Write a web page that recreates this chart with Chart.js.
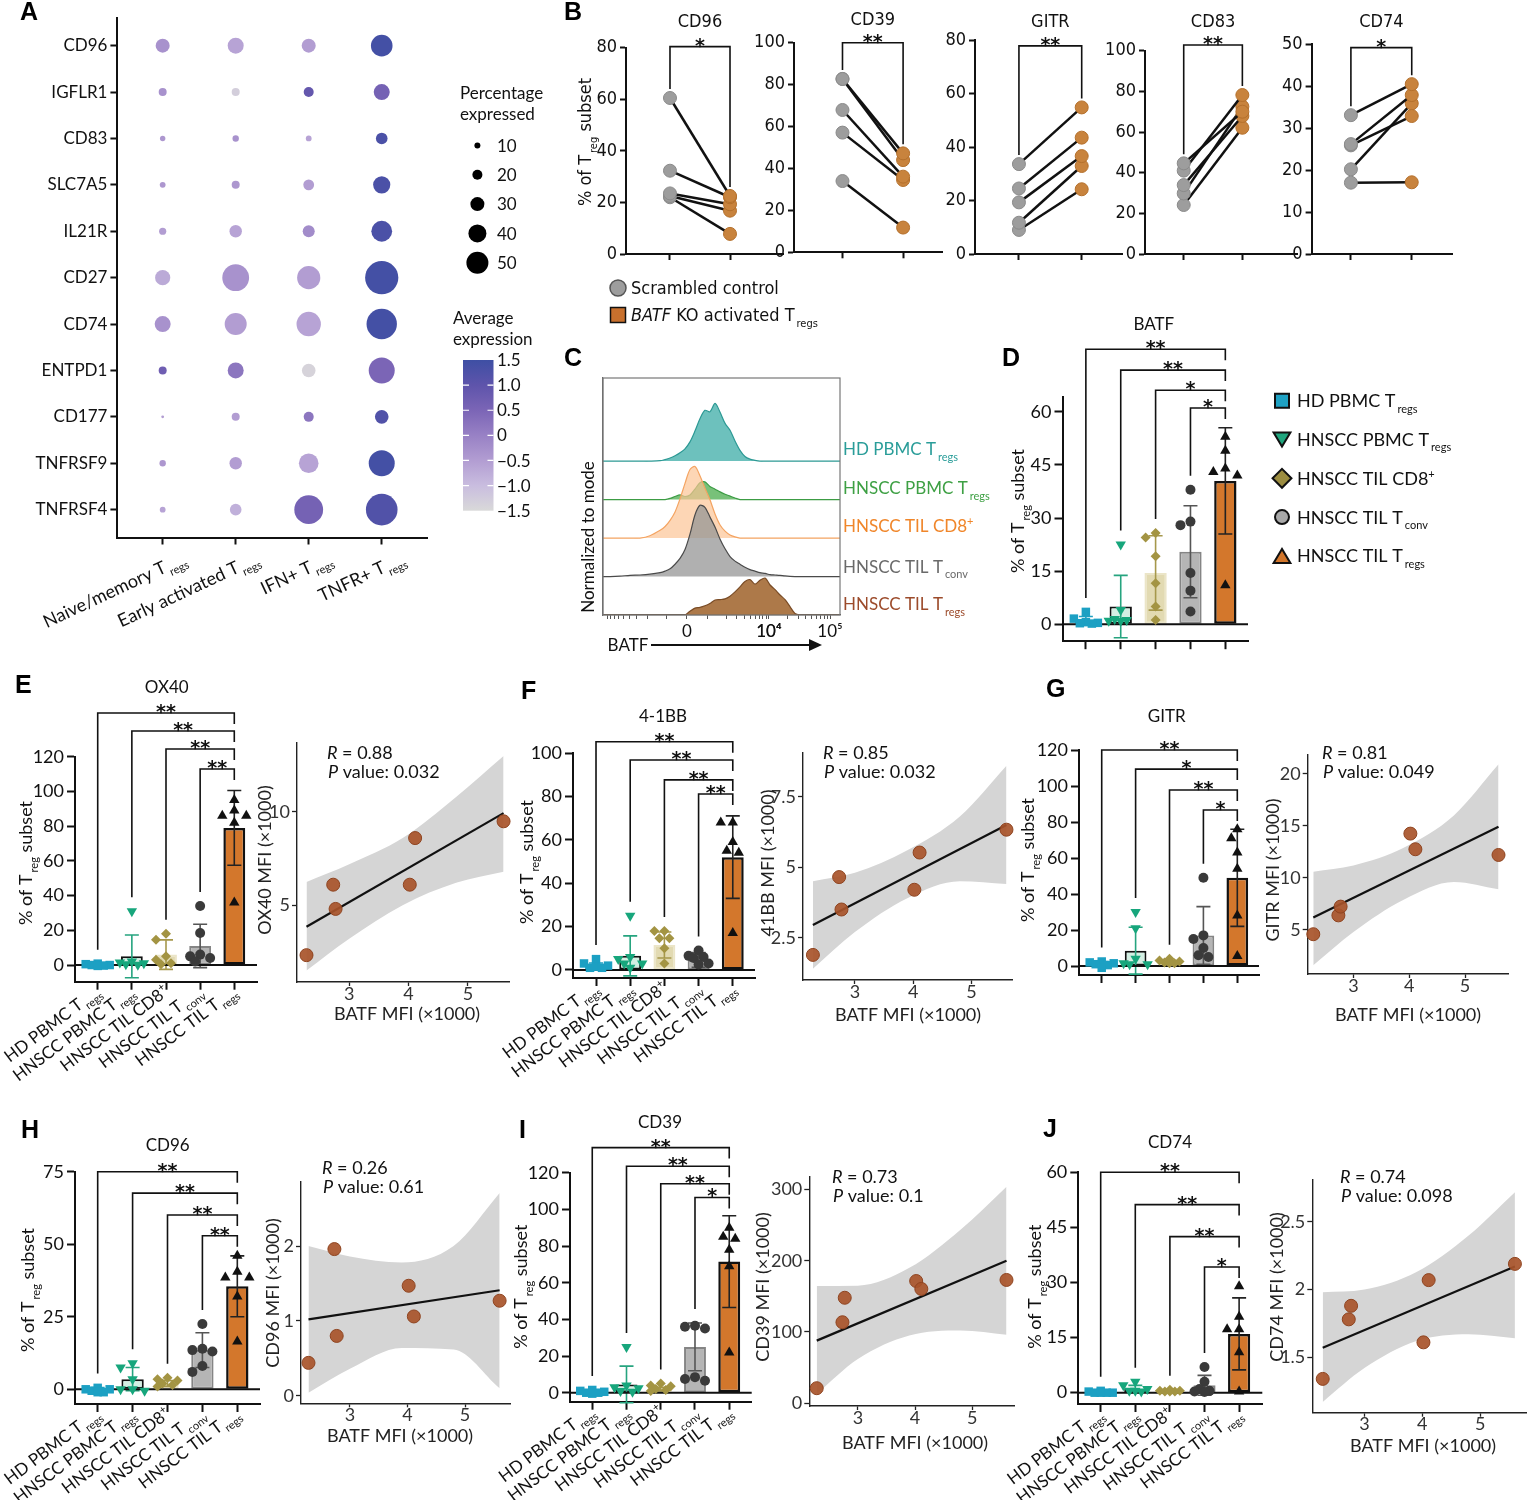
<!DOCTYPE html>
<html>
<head>
<meta charset="utf-8">
<title>BATF Treg figure</title>
<script src="https://cdn.jsdelivr.net/npm/chart.js@4.4.1/dist/chart.umd.min.js"></script>
<style>
  body { margin: 0; background: #fff; }
  #fig { position: relative; width: 1534px; height: 1500px; background: #fff; overflow: hidden; }
  #fig canvas { position: absolute; }
  .tag { position: absolute; font: bold 25px "Liberation Sans", Arial, sans-serif; color: #000; line-height: 25px; }
</style>
</head>
<body>
<div id="fig"></div>
<script>
// ---------- A: dot plot ----------
var dotGenes = ['CD96', 'IGFLR1', 'CD83', 'SLC7A5', 'IL21R', 'CD27', 'CD74', 'ENTPD1', 'CD177', 'TNFRSF9', 'TNFRSF4'];
var dotClusters = ['Naive/memory T_{regs}', 'Early activated T_{regs}', 'IFN+ T_{regs}', 'TNFR+ T_{regs}'];
// percentage expressed (rows = genes, cols = clusters)
var pctExpressed = [
  [30, 35, 30, 49],
  [15, 15, 20, 35],
  [8.5, 11, 9.5, 24],
  [9.5, 15, 22, 38],
  [13, 26, 25, 47],
  [33, 62, 53, 78],
  [35, 50, 56, 71],
  [15, 35, 29, 60],
  [2, 15, 20, 29],
  [11, 26, 44, 60],
  [9.5, 24, 67, 74]
];
var avgExpression = [
  [-0.3, -0.6, -0.5, 1.4],
  [-0.3, -1.3, 0.9, 0.6],
  [-0.4, -0.3, -0.6, 1.3],
  [-0.4, -0.4, -0.5, 1.3],
  [-0.5, -0.6, -0.2, 1.3],
  [-0.7, -0.3, -0.5, 1.4],
  [-0.3, -0.5, -0.6, 1.4],
  [0.7, 0.2, -1.4, 0.5],
  [-0.5, -0.5, 0.2, 1.2],
  [-0.4, -0.5, -0.6, 1.4],
  [-0.6, -0.8, 0.6, 1.2]
];
var sizeBreaks = [10, 20, 30, 40, 50];
var colorBreaks = [1.5, 1.0, 0.5, 0, -0.5, -1.0, -1.5];

// ---------- B: paired KO experiment ----------
var pairedMarkers = ['CD96', 'CD39', 'GITR', 'CD83', 'CD74'];
var pairedScrambled = [
  [60.5, 32.3, 23.5, 22.5, 22],
  [82.7, 82.7, 67.9, 57.1, 34],
  [33.6, 24.5, 19.3, 11.7, 9.0],
  [44.6, 41, 33.9, 29.8, 24.1],
  [33.1, 26.2, 25.9, 20.2, 17.0]
];
var pairedKO = [
  [22.5, 22, 19.3, 16.8, 7.8],
  [47.2, 44, 36.1, 34.5, 11.8],
  [54.8, 43.5, 36.6, 32.9, 24.2],
  [70, 78.2, 67.9, 72.5, 62.1],
  [40.5, 37.9, 32.9, 35.9, 17.1]
];
var pairedSig = ['*', '**', '**', '**', '*'];
var pairedTicks = [[0, 20, 40, 60, 80], [0, 20, 40, 60, 80, 100], [0, 20, 40, 60, 80], [0, 20, 40, 60, 80, 100], [0, 10, 20, 30, 40, 50]];

// ---------- D-J: subsets ----------
var groups = ['HD PBMC T_{regs}', 'HNSCC PBMC T_{regs}', 'HNSCC TIL CD8^{+}', 'HNSCC TIL T_{conv}', 'HNSCC TIL T_{regs}'];

// ---------- C: BATF histograms ----------
var histGroups = groups;
var histChannel = [0, 30, 72, 114, 156, 198, 241, 262, 283, 304, 325, 346, 367, 388, 409, 430, 451, 473, 494, 515,
  536, 557, 578, 599, 620, 641, 662, 684, 705, 726, 747, 768, 789, 810, 831, 873, 916, 1000];
var histTeal = [0, 0, 0, 0, 0, 0, 0.01, 0.04, 0.08, 0.14, 0.22, 0.32, 0.5, 0.78, 1.1, 1.32, 1.28, 1.5, 1.27, 0.98,
  0.8, 0.52, 0.28, 0.12, 0.05, 0.02, 0, 0, 0, 0, 0, 0, 0, 0, 0, 0, 0, 0];
var histGreen = [0, 0, 0, 0, 0, 0, 0, 0, 0.03, 0.08, 0.12, 0.08, 0.12, 0.27, 0.44, 0.46, 0.34, 0.27, 0.2, 0.14,
  0.09, 0.04, 0, 0, 0, 0, 0, 0, 0, 0, 0, 0, 0, 0, 0, 0, 0, 0];
var histOrange = [0, 0, 0, 0, 0, 0.06, 0.2, 0.3, 0.46, 0.68, 1.02, 1.42, 1.78, 1.86, 1.62, 1.3, 1.0, 0.62, 0.34, 0.18,
  0.08, 0.03, 0, 0, 0, 0, 0, 0, 0, 0, 0, 0, 0, 0, 0, 0, 0, 0];
var histGray = [0, 0, 0.01, 0.03, 0.04, 0.06, 0.1, 0.14, 0.2, 0.32, 0.47, 0.7, 1.1, 1.6, 1.85, 1.8, 1.55, 1.28, 0.97, 0.72,
  0.52, 0.4, 0.32, 0.24, 0.18, 0.14, 0.1, 0.08, 0.05, 0.04, 0.03, 0.015, 0.005, 0, 0, 0, 0, 0];
var histBrown = [0, 0, 0, 0, 0, 0, 0, 0, 0, 0, 0, 0, 0.1, 0.18, 0.2, 0.24, 0.3, 0.39, 0.4, 0.42,
  0.49, 0.6, 0.73, 0.87, 0.92, 0.8, 0.9, 0.96, 0.78, 0.66, 0.52, 0.4, 0.22, 0.04, 0, 0, 0, 0];
var histLabels = ['0', '10\u2074', '10\u2075'];
var histLabelChannel = [354, 700, 958];

var batfMean = [1, 5, 14.5, 20.5, 40.5];
var batfSd = [1.2, 8.8, 10.5, 13, 15];
var batfPoints = [[3.5, 1.6, 0.6, 0.4, 0.3, 0.2], [22.5, 4, 1.5, 1.2, 1, 1], [25.8, 24.5, 19.2, 11.6, 5, 1.2], [38, 29, 28, 14.5, 9.5, 3.6], [53, 49, 44, 43, 42, 11]];
var batfSig = ['**', '**', '*', '*'];

var ox40Mean = [0, 5, 6, 11, 79];
var ox40Sd = [0.8, 12.3, 8.5, 12.5, 21.5];
var ox40Points = [[0.8, 0.5, 0, 0, -0.3, -0.5], [31, 2, 1.5, 1, 0.5, 0.2], [18, 14.5, 5, 3, 1, 0.5], [34, 18.5, 6, 5, 4, 2], [95, 89, 86, 86, 82, 36]];
var ox40Sig = ['**', '**', '**', '**'];

var bb41Mean = [2, 6.5, 11.5, 4.6, 52];
var bb41Sd = [1.2, 9.2, 6, 3.4, 19];
var bb41Points = [[5, 3, 2, 1.5, 1, 1], [25, 6, 5, 3, 3, 1], [18, 18, 14.6, 14.6, 10, 3], [9, 6.5, 6, 5.5, 3, 2.5], [68, 68, 59, 55, 54, 17]];
var bb41Sig = ['**', '**', '**', '**'];

var gitrMean = [1.5, 8.5, 2, 17, 49];
var gitrSd = [1, 13, 1, 16, 27];
var gitrPoints = [[2.5, 2, 1.5, 1, 0.5, -1], [30, 21, 4, 1.5, 1, 1], [4, 3, 2.5, 2, 1.5, 1.5], [49, 17, 15, 10, 6, 5], [76, 71, 63, 54, 28, 5.6]];
var gitrSig = ['**', '*', '**', '*'];

var cd96Mean = [0, 3.5, 2, 13.5, 35.5];
var cd96Sd = [0.6, 4, 1, 6, 10.5];
var cd96Points = [[0.5, 0, 0, -0.5, -1, -1], [9, 7.5, 3.5, 0, 0, -0.5], [4, 3.5, 3, 2, 1.5, 1], [22.5, 14, 13.5, 13, 8, 6], [46, 40.5, 38.5, 38.5, 32, 16.5]];
var cd96Sig = ['**', '**', '**', '**'];

var cd39Mean = [0.5, 4.5, 2, 25, 71.5];
var cd39Sd = [1, 10, 1, 13, 25];
var cd39Points = [[1.5, 1, 0.5, 0, 0, -0.5], [25, 4, 3, 2.5, 1, 0.5], [5, 4, 3.5, 2, 1.5, 1], [36.5, 36, 35, 8.5, 7.5, 6.5], [90, 85, 84, 78, 69, 22]];
var cd39Sig = ['**', '**', '**', '*'];

var cd74Mean = [0, 1, 0.5, 2, 16];
var cd74Sd = [0.2, 1, 0.2, 2.7, 9.8];
var cd74Points = [[0.5, 0.3, 0, 0, 0, 0], [3, 2, 1, 0.5, 0.5, 0.3], [0.8, 0.5, 0.5, 0.3, 0.3, 0.3], [7, 3, 1, 0.5, 0.3, 0.2], [29, 20.7, 17.3, 17.3, 11, 0.3]];
var cd74Sig = ['**', '**', '**', '*'];

// correlation with BATF MFI (x1000), one value per donor
var batfMfi = [2.28, 2.73, 2.77, 4.02, 4.11, 5.6];
var ox40Mfi = [2.32, 6.1, 4.8, 6.1, 8.6, 9.5];
var bb41Mfi = [1.89, 4.65, 3.5, 4.2, 5.52, 6.33];
var gitrMfi = [4.59, 6.4, 7.24, 14.25, 12.75, 12.2];
var cd96Mfi = [0.44, 1.96, 0.80, 1.47, 1.06, 1.27];
var cd39Mfi = [21, 113.6, 148, 171.5, 160.4, 173];
var cd74Mfi = [1.34, 1.78, 1.88, 1.61, 2.07, 2.19];
var fitX = [2.28, 5.6];
var bandX = [2.28, 3.0, 3.9, 4.8, 5.6];

var FONT = 'Lato, "Noto Sans", sans-serif';
var NARROW = '"Liberation Sans Narrow", "DejaVu Sans Condensed", sans-serif';
var STAR = '"DejaVu Sans", sans-serif';

Chart.defaults.font.family = FONT;
Chart.defaults.color = '#111';
Chart.defaults.animation = false;
Chart.defaults.plugins.legend.display = false;
Chart.defaults.plugins.tooltip.enabled = false;

var fig = document.getElementById('fig');

function addCanvas(box) {
  var c = document.createElement('canvas');
  c.width = box.w; c.height = box.h;
  c.style.left = box.x + 'px'; c.style.top = box.y + 'px';
  c.style.width = box.w + 'px'; c.style.height = box.h + 'px';
  fig.appendChild(c);
  return c;
}

// padding + axis sizes so that the chart area lands on `area` (page coords)
function frame(box, area) {
  return {
    padding: {top: area.t - box.y, right: box.x + box.w - area.r, left: 0, bottom: 0},
    yw: area.l - box.x,
    xh: box.y + box.h - area.b
  };
}

function axis(o) {
  var col = o.color || '#111';
  return {
    type: 'linear', min: o.min, max: o.max, reverse: !!o.reverse, offset: false,
    afterBuildTicks: function (s) { s.ticks = o.ticks.map(function (v) { return {value: v}; }); },
    afterFit: function (s) { if (o.w != null) s.width = o.w; if (o.h != null) s.height = o.h; },
    border: {display: true, color: col, width: o.bw || 2},
    grid: {display: true, offset: false, drawOnChartArea: false, drawTicks: !o.noTicks,
      tickLength: o.tl || 7, tickWidth: o.tw || 2, tickColor: o.tickColor || col},
    ticks: {autoSkip: false, maxRotation: 0, minRotation: 0, padding: o.pad != null ? o.pad : 3,
      color: o.tc || '#111', font: {size: o.fs || 18, family: o.ff || FONT},
      callback: o.cb || function (v) { return String(v); }}
  };
}

// "T_{regs}" -> subscript, "^{+}" -> superscript, "~{R}" -> italic
function parseRich(s) {
  var parts = [], re = /([_^~])\{([^}]*)\}/g, last = 0, m;
  while ((m = re.exec(s))) {
    if (m.index > last) parts.push([s.slice(last, m.index), '']);
    parts.push([m[2], m[1] === '_' ? 'sub' : m[1] === '^' ? 'sup' : 'i']);
    last = re.lastIndex;
  }
  if (last < s.length) parts.push([s.slice(last), '']);
  return parts;
}

function drawRich(ctx, str, x, y, o) {
  var parts = parseRich(str), size = o.size || 17, fam = o.family || FONT, wt = o.weight || 'normal';
  function font(k) {
    return (k === 'i' ? 'italic ' : '') + wt + ' ' + (k === 'sub' || k === 'sup' ? Math.round(size * 0.62) : size) + 'px ' + fam;
  }
  ctx.save();
  ctx.translate(x, y);
  if (o.rot) ctx.rotate(o.rot * Math.PI / 180);
  var w = 0;
  parts.forEach(function (p) { ctx.font = font(p[1]); w += ctx.measureText(p[0]).width + (p[1] === 'sub' ? 2 : 0); });
  var cx = o.align === 'right' ? -w : o.align === 'center' ? -w / 2 : 0;
  var base = o.middle ? size * 0.36 : 0;
  ctx.fillStyle = o.color || '#111';
  ctx.textAlign = 'left';
  ctx.textBaseline = 'alphabetic';
  parts.forEach(function (p) {
    ctx.font = font(p[1]);
    if (p[1] === 'sub') cx += 2;
    var dy = p[1] === 'sub' ? size * 0.3 : p[1] === 'sup' ? -size * 0.4 : 0;
    ctx.fillText(p[0], cx, base + dy);
    cx += ctx.measureText(p[0]).width;
  });
  ctx.restore();
}

function drawShape(ctx, shape, x, y, s, fill, stroke, lw) {
  ctx.save();
  ctx.beginPath();
  if (shape === 'rect') ctx.rect(x - s, y - s, 2 * s, 2 * s);
  else if (shape === 'circle') ctx.arc(x, y, s, 0, Math.PI * 2);
  else if (shape === 'rectRot') { ctx.moveTo(x, y - s * 1.35); ctx.lineTo(x + s * 1.35, y); ctx.lineTo(x, y + s * 1.35); ctx.lineTo(x - s * 1.35, y); ctx.closePath(); }
  else if (shape === 'triDown') { ctx.moveTo(x - s * 1.2, y - s); ctx.lineTo(x + s * 1.2, y - s); ctx.lineTo(x, y + s); ctx.closePath(); }
  else { ctx.moveTo(x - s * 1.2, y + s); ctx.lineTo(x + s * 1.2, y + s); ctx.lineTo(x, y - s); ctx.closePath(); }
  ctx.fillStyle = fill; ctx.fill();
  if (stroke) { ctx.strokeStyle = stroke; ctx.lineWidth = lw || 2; ctx.stroke(); }
  ctx.restore();
}

function addTag(t, x, y) {
  var d = document.createElement('div');
  d.className = 'tag'; d.textContent = t;
  d.style.left = x + 'px'; d.style.top = y + 'px';
  fig.appendChild(d);
}

// ================= A =================
function dotRadius(p) { return 1 + 0.2 * p; }
var expressionStops = [[-1.5, [217, 217, 217]], [-1.0, [201, 189, 223]], [-0.5, [178, 157, 210]], [0, [152, 129, 197]],
  [0.5, [123, 101, 182]], [1.0, [94, 84, 171]], [1.5, [62, 79, 164]]];
function colorFor(v) {
  v = Math.max(-1.5, Math.min(1.5, v));
  for (var i = 1; i < expressionStops.length; i++) {
    var a = expressionStops[i - 1], b = expressionStops[i];
    if (v <= b[0]) {
      var t = (v - a[0]) / (b[0] - a[0]);
      var c = a[1].map(function (ch, k) { return Math.round(ch + (b[1][k] - ch) * t); });
      return 'rgb(' + c.join(',') + ')';
    }
  }
  return 'rgb(62,79,164)';
}

(function () {
  var box = {x: 0, y: 0, w: 560, h: 640};
  var area = {l: 117.4, t: 17.8, r: 427, b: 537.5};
  var L = frame(box, area);
  var pts = [], cols = [];
  dotGenes.forEach(function (g, gi) {
    dotClusters.forEach(function (c, ci) {
      pts.push({x: ci, y: gi, r: dotRadius(pctExpressed[gi][ci])});
      cols.push(colorFor(avgExpression[gi][ci]));
    });
  });
  new Chart(addCanvas(box), {
    type: 'bubble',
    data: {datasets: [{data: pts, backgroundColor: cols, borderWidth: 0, clip: false}]},
    options: {
      responsive: false,
      layout: {padding: L.padding},
      scales: {
        x: axis({min: -0.62, max: 3.62, ticks: [0, 1, 2, 3], h: L.xh, cb: function () { return ''; }, tl: 7}),
        y: axis({min: -0.6, max: 10.6, reverse: true, ticks: dotGenes.map(function (g, i) { return i; }), w: L.yw,
          cb: function (v) { return dotGenes[v]; }, fs: 17, tl: 7})
      }
    },
    plugins: [{
      id: 'aDecor',
      afterDraw: function (chart) {
        var ctx = chart.ctx, xs = chart.scales.x;
        dotClusters.forEach(function (c, i) {
          drawRich(ctx, c, xs.getPixelForValue(i) + 25, area.b + 25, {size: 18, align: 'right', rot: -25});
        });
        // size legend
        drawRich(ctx, 'Percentage', 460, 99, {size: 17});
        drawRich(ctx, 'expressed', 460, 120, {size: 17});
        sizeBreaks.forEach(function (s, i) {
          var yy = 145.5 + i * 29.3;
          ctx.beginPath(); ctx.arc(477.4, yy, dotRadius(s), 0, Math.PI * 2);
          ctx.fillStyle = '#000'; ctx.fill();
          drawRich(ctx, String(s), 497, yy, {size: 17, middle: true});
        });
        // colour legend
        drawRich(ctx, 'Average', 453, 324, {size: 17});
        drawRich(ctx, 'expression', 453, 345, {size: 17});
        var top = 360, bot = 510.7, x0 = 463, x1 = 493.5;
        var grad = ctx.createLinearGradient(0, top, 0, bot);
        expressionStops.forEach(function (st) { grad.addColorStop((1.5 - st[0]) / 3, 'rgb(' + st[1].join(',') + ')'); });
        ctx.fillStyle = grad;
        ctx.fillRect(x0, top, x1 - x0, bot - top);
        colorBreaks.forEach(function (v) {
          var yy = top + (1.5 - v) / 3 * (bot - top);
          if (v < 1.5 && v > -1.5) {
            ctx.strokeStyle = '#fff'; ctx.lineWidth = 1.2;
            ctx.beginPath(); ctx.moveTo(x0, yy); ctx.lineTo(x0 + 6, yy); ctx.moveTo(x1 - 6, yy); ctx.lineTo(x1, yy); ctx.stroke();
          }
          var lab = v === 0 ? '0' : (v < 0 ? '\u2212' : '') + Math.abs(v).toFixed(1);
          drawRich(ctx, lab, 497, yy, {size: 17, middle: true});
        });
      }
    }]
  });
})();

// ================= B =================
var pairedLayout = [
  {box: {x: 560, y: 0, w: 270, h: 335}, area: {l: 626, t: 47.7, r: 783, b: 254}, xMin: -0.733, xMax: 1.883, titleY: 20.7, bracket: 80.4},
  {box: {x: 745, y: 0, w: 205, h: 290}, area: {l: 794, t: 42.7, r: 943.6, b: 252.3}, xMin: -0.8, xMax: 1.65, titleY: 18.3, bracket: 100},
  {box: {x: 935, y: 0, w: 195, h: 290}, area: {l: 975, t: 40, r: 1123, b: 254}, xMin: -0.7, xMax: 1.65, titleY: 20.7, bracket: 77.8},
  {box: {x: 1095, y: 0, w: 210, h: 290}, area: {l: 1145, t: 50.7, r: 1300, b: 254}, xMin: -0.66, xMax: 1.94, titleY: 20.7, bracket: 102.8},
  {box: {x: 1265, y: 0, w: 195, h: 290}, area: {l: 1311.6, t: 44.3, r: 1453, b: 254}, xMin: -0.646, xMax: 1.67, titleY: 20.7, bracket: 49.2}
];

pairedMarkers.forEach(function (m, k) {
  var P = pairedLayout[k];
  var L = frame(P.box, P.area);
  var yMax = pairedTicks[k][pairedTicks[k].length - 1];
  var ds = pairedScrambled[k].map(function (v, d) {
    return {
      data: [{x: 0, y: v}, {x: 1, y: pairedKO[k][d]}],
      borderColor: '#111', borderWidth: 2.5,
      pointRadius: 6.5, pointBackgroundColor: ['#9d9d9d', '#c8833d'], pointBorderColor: ['#8a8a8a', '#b4702c'],
      pointBorderWidth: 1, clip: false
    };
  });
  new Chart(addCanvas(P.box), {
    type: 'line',
    data: {datasets: ds},
    options: {
      responsive: false,
      layout: {padding: L.padding},
      scales: {
        x: axis({min: P.xMin, max: P.xMax, ticks: [0, 1], h: L.xh, cb: function () { return ''; }, tl: 6}),
        y: axis({min: 0, max: yMax, ticks: pairedTicks[k], w: L.yw, fs: 18, ff: NARROW, tl: 6})
      }
    },
    plugins: [{
      id: 'bDecor',
      afterDraw: function (chart) {
        var ctx = chart.ctx, xs = chart.scales.x, ys = chart.scales.y, ox = P.box.x, oy = P.box.y;
        var x0 = xs.getPixelForValue(0), x1 = xs.getPixelForValue(1), yb = ys.getPixelForValue(P.bracket);
        var la = ys.getPixelForValue(Math.max.apply(null, pairedScrambled[k])) - 9;
        var lb = ys.getPixelForValue(Math.max.apply(null, pairedKO[k])) - 9;
        ctx.save();
        ctx.strokeStyle = '#111'; ctx.lineWidth = 1.6;
        ctx.beginPath(); ctx.moveTo(x0, la); ctx.lineTo(x0, yb); ctx.lineTo(x1, yb); ctx.lineTo(x1, lb); ctx.stroke();
        ctx.restore();
        drawRich(ctx, pairedSig[k], (x0 + x1) / 2, yb + 5, {size: 19, weight: 'bold', align: 'center', family: STAR});
        drawRich(ctx, m, (x0 + x1) / 2, P.titleY - oy, {size: 18, align: 'center', middle: true, family: NARROW});
        if (k === 0) {
          ctx.save(); ctx.translate(-ox, -oy);
          drawRich(ctx, '% of T_{reg} subset', 585, 142, {size: 18, align: 'center', middle: true, rot: -90, family: NARROW});
          drawShape(ctx, 'circle', 618, 288, 8, '#9d9d9d', '#555', 1.5);
          drawRich(ctx, 'Scrambled control', 631, 288, {size: 18, middle: true, family: NARROW});
          drawShape(ctx, 'rect', 618, 315, 7.5, '#c8702d', '#111', 1.5);
          drawRich(ctx, '~{BATF} KO activated T_{regs}', 631, 315, {size: 18, middle: true, family: NARROW});
          ctx.restore();
        }
      }
    }]
  });
});

// ================= C =================
(function () {
  var box = {x: 570, y: 330, w: 430, h: 330};
  var area = {l: 603, t: 378, r: 840, b: 615};
  var L = frame(box, area);
  var ridges = [histTeal, histGreen, histOrange, histGray, histBrown];
  var ridgeStyle = [
    {line: '#2c9994', fill: 'rgba(72,178,172,0.8)', text: '#2a9d99'},
    {line: '#3c9c44', fill: 'rgba(96,182,98,0.85)', text: '#3ea044'},
    {line: '#f4a462', fill: 'rgba(252,196,150,0.7)', text: '#f0862a'},
    {line: '#4a4a4a', fill: 'rgba(150,150,150,0.75)', text: '#6a6a6a'},
    {line: '#7a4c26', fill: 'rgba(166,110,58,0.92)', text: '#9c4b2b'}
  ];
  var ds = ridges.map(function (h, i) {
    var base = 4 - i;
    return {
      type: 'line', order: 5 - i,
      data: histChannel.map(function (c, j) { return {x: c, y: base + h[j]}; }),
      borderColor: ridgeStyle[i].line, borderWidth: 1.2, backgroundColor: ridgeStyle[i].fill,
      fill: {value: base}, pointRadius: 0, tension: 0.3
    };
  });
  // minor ticks of the logicle display (decades 1e3..1e5 and mirrored negatives)
  var minor = [];
  [1e3, 1e4].forEach(function (dec) {
    for (var mm = 1; mm <= 9; mm++) {
      var c = 700 + 258 * Math.log10(mm * dec / 1e4);
      if (c > 0 && c < 1000) minor.push(c);
      if (dec === 1e3) { var n = 354 - (c - 354); if (n > 0) minor.push(n); }
    }
  });
  var allTicks = histLabelChannel.concat(minor).sort(function (a, b) { return a - b; });
  new Chart(addCanvas(box), {
    type: 'line',
    data: {datasets: ds},
    options: {
      responsive: false,
      layout: {padding: L.padding},
      scales: {
        x: axis({min: 0, max: 1000, ticks: allTicks, h: L.xh, tl: 4, tw: 1, bw: 1.2, color: '#555', fs: 17, pad: 2,
          cb: function (v) { var i = histLabelChannel.indexOf(v); return i >= 0 ? histLabels[i] : ''; }}),
        y: axis({min: 0, max: 6.16, ticks: [], w: L.yw, noTicks: true, bw: 1.2, color: '#666'})
      }
    },
    plugins: [{
      id: 'cDecor',
      afterDraw: function (chart) {
        var ctx = chart.ctx, a = chart.chartArea;
        ctx.save();
        ctx.strokeStyle = '#777'; ctx.lineWidth = 1.2;
        ctx.strokeRect(a.left, a.top, a.right - a.left, a.bottom - a.top);
        ctx.translate(-box.x, -box.y);
        var ly = [449.3, 488.3, 525.7, 566.7, 604.3];
        histGroups.forEach(function (g, i) {
          drawRich(ctx, g, 843, ly[i], {size: 17, middle: true, color: ridgeStyle[i].text});
        });
        drawRich(ctx, 'Normalized to mode', 588, 537, {size: 17, align: 'center', middle: true, rot: -90});
        drawRich(ctx, 'BATF', 628, 645, {size: 17, align: 'center', middle: true});
        ctx.strokeStyle = '#111'; ctx.lineWidth = 2;
        ctx.beginPath(); ctx.moveTo(651, 645); ctx.lineTo(812, 645); ctx.stroke();
        ctx.fillStyle = '#111';
        ctx.beginPath(); ctx.moveTo(822, 645); ctx.lineTo(809, 639); ctx.lineTo(809, 651); ctx.closePath(); ctx.fill();
        ctx.restore();
      }
    }]
  });
})();

// ================= D-J bar panels =================
var groupStyle = [
  {fill: '#7fcfe0', edge: '#1fa0c2', edgeW: 1.5, err: '#1fa0c2', pt: '#1ca0c3', shape: 'rect', rot: 0, r: 6, legend: 'rect'},
  {fill: '#d3efe3', edge: '#111111', edgeW: 2, err: '#26a47f', pt: '#17a67c', shape: 'triangle', rot: 180, r: 6, legend: 'triDown'},
  {fill: '#e2dab2', edge: '#ebe5c8', edgeW: 2, err: '#a6984c', pt: '#a39443', shape: 'rectRot', rot: 0, r: 5, legend: 'rectRot'},
  {fill: '#b5b5b5', edge: '#858585', edgeW: 2, err: '#555555', pt: '#3a3a3a', shape: 'circle', rot: 0, r: 5, legend: 'circle'},
  {fill: '#d3772c', edge: '#111111', edgeW: 2.5, err: '#222222', pt: '#111111', shape: 'triangle', rot: 0, r: 6, legend: 'tri'}
];
var legendFill = ['#1fa2c4', '#1fa57d', '#9c8d40', '#a9a9a9', '#d2762b'];

// spread points of one column so they overlap less
function swarm(vals, yPx, xPx, d) {
  var order = vals.map(function (v, i) { return i; }).sort(function (a, b) { return vals[b] - vals[a]; });
  var placed = [], off = [];
  var step = d * 0.5, cands = [0, -step, step, -2 * step, 2 * step];
  order.forEach(function (i) {
    var py = vals[i] * yPx, best = 0, bestGap = -1;
    for (var c = 0; c < cands.length; c++) {
      var gap = Infinity;
      placed.forEach(function (q) { gap = Math.min(gap, Math.hypot(q[0] - cands[c], q[1] - py)); });
      if (gap >= d * 0.8) { best = cands[c]; break; }
      if (gap > bestGap) { bestGap = gap; best = cands[c]; }
    }
    placed.push([best, py]);
    off[i] = best / xPx;
  });
  return off;
}

function barPanel(p) {
  var L = frame(p.box, p.area);
  var yPx = (p.area.b - p.area.t) / (p.yMax - p.yMin);
  var xPx = (p.area.r - p.area.l) / (p.xMax - p.xMin);
  var datasets = [{
    type: 'bar', order: 10,
    data: p.mean.map(function (v, i) { return {x: i, y: v}; }),
    backgroundColor: groupStyle.map(function (g) { return g.fill; }),
    borderColor: groupStyle.map(function (g) { return g.edge; }),
    borderWidth: groupStyle.map(function (g) { return g.edgeW; }),
    borderSkipped: false,
    barPercentage: 0.64, categoryPercentage: 1
  }];
  p.points.forEach(function (vals, gi) {
    var st = groupStyle[gi];
    var off = swarm(vals, yPx, xPx, st.r * 2);
    datasets.push({
      type: 'scatter', order: 1,
      data: vals.map(function (v, k) { return {x: gi + off[k], y: v}; }),
      pointStyle: st.shape, pointRotation: st.rot, pointRadius: st.r,
      pointBackgroundColor: st.pt, pointBorderColor: st.pt, pointBorderWidth: 0, clip: false
    });
  });
  new Chart(addCanvas(p.box), {
    type: 'bar',
    data: {datasets: datasets},
    options: {
      responsive: false,
      layout: {padding: L.padding},
      scales: {
        x: axis({min: p.xMin, max: p.xMax, ticks: [0, 1, 2, 3, 4], h: L.xh, cb: function () { return ''; }, tl: 8}),
        y: axis({min: p.yMin, max: p.yMax, ticks: p.yTicks, w: L.yw, fs: 18, tl: 8})
      }
    },
    plugins: [{
      id: 'barDecor',
      afterDatasetDraw: function (chart, args) {
        if (args.index !== 0) return;
        var ctx = chart.ctx, x = chart.scales.x, y = chart.scales.y;
        ctx.save();
        p.mean.forEach(function (m, i) {
          var cx = x.getPixelForValue(i);
          var y1 = y.getPixelForValue(m - p.sd[i]), y2 = y.getPixelForValue(m + p.sd[i]);
          ctx.strokeStyle = groupStyle[i].err; ctx.lineWidth = 1.6;
          ctx.beginPath();
          ctx.moveTo(cx, y1); ctx.lineTo(cx, y2);
          ctx.moveTo(cx - 7, y1); ctx.lineTo(cx + 7, y1);
          ctx.moveTo(cx - 7, y2); ctx.lineTo(cx + 7, y2);
          ctx.stroke();
        });
        var y0 = y.getPixelForValue(0);
        ctx.strokeStyle = '#111'; ctx.lineWidth = 2;
        ctx.beginPath(); ctx.moveTo(chart.chartArea.left, y0); ctx.lineTo(chart.chartArea.right, y0); ctx.stroke();
        ctx.restore();
      },
      afterDraw: function (chart) {
        var ctx = chart.ctx, x = chart.scales.x, y = chart.scales.y, ox = p.box.x, oy = p.box.y;
        ctx.save();
        ctx.strokeStyle = '#111'; ctx.lineWidth = 1.6;
        p.sig.forEach(function (s, k) {
          var yb = y.getPixelForValue(p.bracketY[k]);
          var xa = x.getPixelForValue(k), xb = x.getPixelForValue(4);
          var topA = Math.min(y.getPixelForValue(Math.max.apply(null, p.points[k])), y.getPixelForValue(p.mean[k] + p.sd[k]));
          ctx.beginPath(); ctx.moveTo(xa, topA - 14); ctx.lineTo(xa, yb); ctx.lineTo(xb, yb); ctx.lineTo(xb, yb + 11); ctx.stroke();
          drawRich(ctx, s, (xa + xb) / 2, yb + 5, {size: 19, weight: 'bold', align: 'center', family: STAR});
        });
        ctx.restore();
        ctx.save(); ctx.translate(-ox, -oy);
        drawRich(ctx, p.title, p.titleAt[0], p.titleAt[1], {size: 17, align: 'center', middle: true});
        drawRich(ctx, '% of T_{reg} subset', p.yTitleAt[0], p.yTitleAt[1], {size: 18, align: 'center', middle: true, rot: -90});
        if (p.labels) {
          groups.forEach(function (g, i) {
            drawRich(ctx, g, x.getPixelForValue(i) + ox + 4, p.area.b + 12, {size: 17, align: 'right', rot: -37});
          });
        }
        if (p.legend) {
          groups.forEach(function (g, i) {
            var yy = 400.7 + i * 38.8;
            drawShape(ctx, groupStyle[i].legend, 1282, yy, 7, legendFill[i], '#111', 2);
            drawRich(ctx, g, 1297, yy, {size: 18, middle: true});
          });
        }
        ctx.restore();
      }
    }]
  });
}

var t20 = [0, 20, 40, 60, 80, 100, 120];
barPanel({box: {x: 1000, y: 310, w: 534, h: 345}, area: {l: 1062.5, t: 397, r: 1248, b: 642},
  yMin: -4.78, yMax: 64.2, yTicks: [0, 15, 30, 45, 60], xMin: -0.67, xMax: 4.65,
  mean: batfMean, sd: batfSd, points: batfPoints, sig: batfSig, bracketY: [77.7, 71.8, 66.1, 61.1],
  title: 'BATF', titleAt: [1153.8, 324], yTitleAt: [1018, 511], labels: false, legend: true});
barPanel({box: {x: 0, y: 670, w: 275, h: 420}, area: {l: 75, t: 756.7, r: 257, b: 981.7},
  yMin: -9.6, yMax: 120, yTicks: t20, xMin: -0.665, xMax: 4.665,
  mean: ox40Mean, sd: ox40Sd, points: ox40Points, sig: ox40Sig, bracketY: [145.2, 134.8, 124.4, 112.9],
  title: 'OX40', titleAt: [166.7, 686.7], yTitleAt: [26, 863], labels: true});
barPanel({box: {x: 480, y: 670, w: 290, h: 420}, area: {l: 573, t: 753, r: 755, b: 978},
  yMin: -3.7, yMax: 100, yTicks: [0, 20, 40, 60, 80, 100], xMin: -0.673, xMax: 4.65,
  mean: bb41Mean, sd: bb41Sd, points: bb41Points, sig: bb41Sig, bracketY: [105.2, 96.8, 87.6, 81.1],
  title: '4-1BB', titleAt: [663, 716], yTitleAt: [527, 862], labels: true});
barPanel({box: {x: 1010, y: 670, w: 265, h: 330}, area: {l: 1079, t: 750, r: 1259, b: 975},
  yMin: -5, yMax: 120, yTicks: t20, xMin: -0.67, xMax: 4.64,
  mean: gitrMean, sd: gitrSd, points: gitrPoints, sig: gitrSig, bracketY: [120, 109.4, 97.8, 86.7],
  title: 'GITR', titleAt: [1166.7, 716], yTitleAt: [1028, 860], labels: false});
barPanel({box: {x: 0, y: 1110, w: 275, h: 390}, area: {l: 75, t: 1171.7, r: 260, b: 1404},
  yMin: -5.07, yMax: 75, yTicks: [0, 25, 50, 75], xMin: -0.65, xMax: 4.65,
  mean: cd96Mean, sd: cd96Sd, points: cd96Points, sig: cd96Sig, bracketY: [75, 67.6, 60.1, 52.9],
  title: 'CD96', titleAt: [167.7, 1145], yTitleAt: [28, 1290], labels: true});
barPanel({box: {x: 480, y: 1100, w: 290, h: 400}, area: {l: 570, t: 1172.7, r: 751.7, b: 1401.7},
  yMin: -4.9, yMax: 120, yTicks: t20, xMin: -0.65, xMax: 4.656,
  mean: cd39Mean, sd: cd39Sd, points: cd39Points, sig: cd39Sig, bracketY: [133.7, 123.5, 114, 106.5],
  title: 'CD39', titleAt: [660, 1121.7], yTitleAt: [520.7, 1286.7], labels: true});
barPanel({box: {x: 990, y: 1110, w: 285, h: 390}, area: {l: 1078.3, t: 1172.3, r: 1262.3, b: 1404},
  yMin: -3.08, yMax: 60, yTicks: [0, 15, 30, 45, 60], xMin: -0.647, xMax: 4.67,
  mean: cd74Mean, sd: cd74Sd, points: cd74Points, sig: cd74Sig, bracketY: [60, 51.2, 42.5, 34.2],
  title: 'CD74', titleAt: [1170, 1141.7], yTitleAt: [1035, 1286.7], labels: true});

// ================= correlation panels =================
function corrPanel(p) {
  var L = frame(p.box, p.area);
  var clear = 'rgba(0,0,0,0)';
  var datasets = [
    {type: 'line', order: 3, data: bandX.map(function (v, i) { return {x: v, y: p.up[i]}; }),
      borderWidth: 0, borderColor: clear, pointRadius: 0, fill: '+1', backgroundColor: '#d5d5d5', cubicInterpolationMode: 'monotone'},
    {type: 'line', order: 3, data: bandX.map(function (v, i) { return {x: v, y: p.lo[i]}; }),
      borderWidth: 0, borderColor: clear, pointRadius: 0, fill: false, cubicInterpolationMode: 'monotone'},
    {type: 'line', order: 2, data: fitX.map(function (v, i) { return {x: v, y: p.fit[i]}; }),
      borderColor: '#111', borderWidth: 2.2, pointRadius: 0, fill: false},
    {type: 'scatter', order: 1, data: batfMfi.map(function (v, i) { return {x: v, y: p.y[i]}; }),
      pointRadius: 6.5, pointBackgroundColor: 'rgba(168,84,42,0.92)', pointBorderColor: '#8f4420', pointBorderWidth: 1, clip: false}
  ];
  new Chart(addCanvas(p.box), {
    type: 'scatter',
    data: {datasets: datasets},
    options: {
      responsive: false,
      layout: {padding: L.padding},
      scales: {
        x: axis({min: p.xMin, max: p.xMax, ticks: [3, 4, 5], h: L.xh, fs: 18, tl: 4, tw: 1.3, bw: 1.4, color: '#222', tc: '#333', pad: -3}),
        y: axis({min: p.yMin, max: p.yMax, ticks: p.yTicks, w: L.yw, fs: 18, tl: 5, tw: 1.3, bw: 1.4, color: '#222', tc: '#333', pad: 2})
      }
    },
    plugins: [{
      id: 'corrDecor',
      afterDraw: function (chart) {
        var ctx = chart.ctx;
        ctx.save(); ctx.translate(-p.box.x, -p.box.y);
        drawRich(ctx, '~{R} = ' + p.r, p.rAt[0], p.rAt[1], {size: 18, middle: true});
        drawRich(ctx, '~{P} value: ' + p.pv, p.rAt[0] + 1, p.rAt[1] + 19, {size: 18, middle: true});
        drawRich(ctx, p.yTitle + ' MFI (\u00d71000)', p.yTitleAt[0], p.yTitleAt[1], {size: 18, align: 'center', middle: true, rot: -90, color: '#222'});
        drawRich(ctx, 'BATF MFI (\u00d71000)', p.xTitleAt[0], p.xTitleAt[1] + 3, {size: 18, align: 'center', middle: true, color: '#222'});
        ctx.restore();
      }
    }]
  });
}

corrPanel({box: {x: 255, y: 730, w: 262, h: 300}, area: {l: 297, t: 743, r: 512, b: 982},
  xMin: 2.12, xMax: 5.7, yMin: 0.88, yMax: 13.7, yTicks: [5, 10], y: ox40Mfi, fit: [3.84, 9.94],
  up: [6.25, 7.2, 8.6, 10.8, 13.0], lo: [1.5, 3.2, 5.0, 6.2, 6.8],
  r: '0.88', pv: '0.032', rAt: [327, 753], yTitle: 'OX40', yTitleAt: [265, 860], xTitleAt: [407, 1011]});
corrPanel({box: {x: 755, y: 730, w: 265, h: 300}, area: {l: 803, t: 753, r: 1012, b: 980},
  xMin: 2.11, xMax: 5.695, yMin: 1.0, yMax: 9.05, yTicks: [2.5, 5, 7.5], y: bb41Mfi, fit: [2.95, 6.5],
  up: [4.5, 4.8, 5.6, 6.8, 8.6], lo: [1.4, 2.7, 3.9, 4.5, 4.4],
  r: '0.85', pv: '0.032', rAt: [823, 753], yTitle: '41BB', yTitleAt: [768, 863], xTitleAt: [908, 1012]});
corrPanel({box: {x: 1260, y: 730, w: 274, h: 300}, area: {l: 1307.7, t: 755, r: 1508, b: 974},
  xMin: 2.18, xMax: 5.77, yMin: 0.77, yMax: 21.8, yTicks: [5, 10, 15, 20], y: gitrMfi, fit: [6.2, 14.9],
  up: [10.6, 11.2, 12.9, 16.0, 20.9], lo: [1.6, 4.8, 7.9, 9.6, 8.9],
  r: '0.81', pv: '0.049', rAt: [1322, 753], yTitle: 'GITR', yTitleAt: [1273, 870], xTitleAt: [1408, 1012]});
corrPanel({box: {x: 258, y: 1150, w: 262, h: 300}, area: {l: 301, t: 1181.7, r: 510, b: 1403.3},
  xMin: 2.15, xMax: 5.78, yMin: -0.1, yMax: 2.86, yTicks: [0, 1, 2], y: cd96Mfi, fit: [1.02, 1.41],
  up: [2.0, 1.86, 1.78, 2.0, 2.71], lo: [0.04, 0.36, 0.64, 0.62, 0.1],
  r: '0.26', pv: '0.61', rAt: [322, 1168], yTitle: 'CD96', yTitleAt: [273, 1293], xTitleAt: [400, 1433]});
corrPanel({box: {x: 750, y: 1150, w: 272, h: 305}, area: {l: 809.3, t: 1176.7, r: 1020, b: 1406},
  xMin: 2.15, xMax: 5.74, yMin: -4, yMax: 318, yTicks: [0, 100, 200, 300], y: cd39Mfi, fit: [87.8, 200],
  up: [164.5, 165, 190, 244, 304], lo: [13, 62, 95, 102, 96],
  r: '0.73', pv: '0.1', rAt: [832, 1177], yTitle: 'CD39', yTitleAt: [763, 1287], xTitleAt: [915, 1440]});
corrPanel({box: {x: 1262, y: 1150, w: 272, h: 310}, area: {l: 1312.3, t: 1180, r: 1530, b: 1412.7},
  xMin: 2.1, xMax: 5.8, yMin: 1.09, yMax: 2.81, yTicks: [1.5, 2, 2.5], y: cd74Mfi, fit: [1.57, 2.17],
  up: [1.98, 2.0, 2.13, 2.4, 2.72], lo: [1.17, 1.42, 1.62, 1.67, 1.64],
  r: '0.74', pv: '0.098', rAt: [1340, 1177], yTitle: 'CD74', yTitleAt: [1277, 1287], xTitleAt: [1423, 1443]});

// panel letters
addTag('A', 20, -1); addTag('B', 564, -1); addTag('C', 564, 345); addTag('D', 1002, 345);
addTag('E', 15, 672); addTag('F', 521, 678); addTag('G', 1046, 676);
addTag('H', 21, 1117); addTag('I', 519, 1117); addTag('J', 1043, 1116);
</script>
</body>
</html>
